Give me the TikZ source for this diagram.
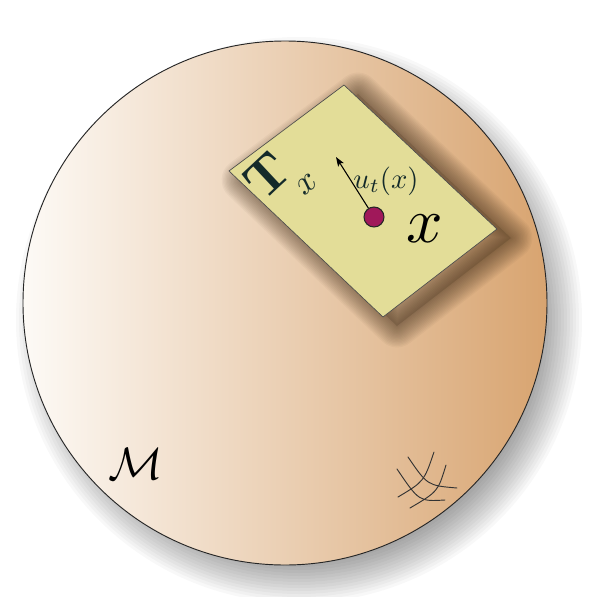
\documentclass[tikz,border=0pt]{standalone}
\usepackage{tikz}
\usetikzlibrary{arrows.meta, positioning, calc}
\definecolor{MfdLight}{RGB}{253,250,246}
\definecolor{MfdTan}{RGB}{216,164,112}
\definecolor{PlaneYellow}{RGB}{227,221,152}
\definecolor{PointMagenta}{RGB}{160,24,90}
\definecolor{InkTeal}{RGB}{20,42,42}

\begin{document}
\begin{tikzpicture}[x=0.75pt, y=-0.75pt,
    gridarc/.style={draw=black!80, line width=0.7pt, line cap=round}]
    \fill[white] (0,0) rectangle (601,597);
    \useasboundingbox (0,0) rectangle (601,597);

    % soft shadow of the manifold
    \foreach \r in {238,241,...,283}
      \fill[black, opacity=0.028] (299,320) circle[radius=\r];
    \path[left color=MfdLight, right color=MfdTan, draw=black!85, line width=0.7pt]
      (285,303) circle[radius=262];

    \coordinate (pTop) at (344,85);
    \coordinate (pRight) at (497,229);
    \coordinate (pBot) at (383,317);
    \coordinate (pLeft) at (229,171);

    % shadow of the tangent plane
    \foreach \w in {2,4,...,32}
      \draw[black!70!brown, opacity=0.04, line width=\w pt, line join=round]
        ($(pTop)+(14,9)$) -- ($(pRight)+(14,9)$) -- ($(pBot)+(14,9)$) -- ($(pLeft)+(14,9)$) -- cycle;
    \fill[black!70!brown, opacity=0.2]
      ($(pTop)+(14,9)$) -- ($(pRight)+(14,9)$) -- ($(pBot)+(14,9)$) -- ($(pLeft)+(14,9)$) -- cycle;

    \filldraw[fill=PlaneYellow, draw=black!70, line width=0.5pt]
      (pTop) -- (pRight) -- (pBot) -- (pLeft) -- cycle;

    \node[circle, fill=PointMagenta, draw=black!85, line width=0.8pt,
          minimum size=15pt, inner sep=0pt] (pt) at (374,217) {};
    \coordinate (utip) at (336,157);
    \draw[-{Stealth[length=7pt, width=5pt, inset=1.5pt]}, line width=0.8pt] (pt) -- (utip);

    \node[text=InkTeal, scale=2.15] (ulab) at (386,181) {$u_t(x)$};
    \node[text=InkTeal, rotate=43, scale=3.9, inner sep=0pt] (tlab) at (267,175) {$\mathbf{T}$};
    \node[text=InkTeal, rotate=40, scale=2.6, inner sep=0pt] (tsub) at (307,184) {$x$};
    \node[scale=4.8] (xlab) at (425,229) {$x$};
    \node[scale=3.4] (mlab) at (136,464) {$\mathcal{M}$};

    \draw[gridarc] (408,457) .. controls (427.5,485.5) .. (457,488);
    \draw[gridarc] (397,469) .. controls (419,501.5) .. (445,500);
    \draw[gridarc] (434,452) .. controls (424,481.5) .. (398,497);
    \draw[gridarc] (446,465) .. controls (438,491.5) .. (410,508);
\end{tikzpicture}
\end{document}
